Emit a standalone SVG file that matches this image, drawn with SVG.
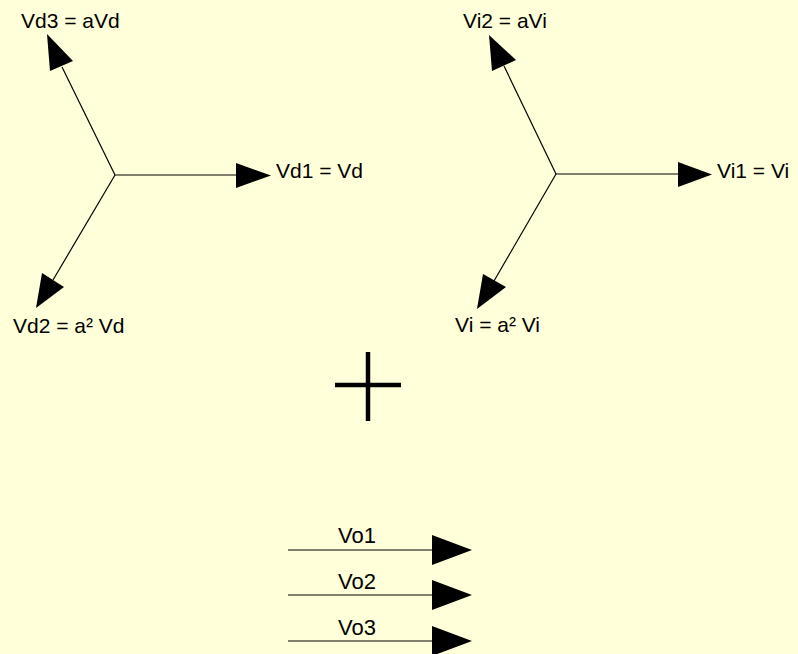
<svg xmlns="http://www.w3.org/2000/svg" width="798" height="654" viewBox="0 0 798 654">
<style>
.t{font-family:"Liberation Sans",Arial,sans-serif;font-size:21px;fill:#000}
.b{font-size:22px}
.ln{stroke:#000;stroke-width:1.2;fill:none}
.ah{fill:#000}
</style>
<rect width="798" height="654" fill="#FFFFD9"/>
<g id="connectors">
<line class="ln" x1="115" y1="175" x2="62" y2="67"/>
<polygon class="ah" points="47,34 50,71 73,61"/>
<line class="ln" x1="115" y1="175" x2="237" y2="175"/>
<polygon class="ah" points="236,163 236,188 271,175.5"/>
<line class="ln" x1="115" y1="175" x2="53" y2="280"/>
<polygon class="ah" points="36,308 42,273 64,287"/>
<line class="ln" x1="556" y1="174" x2="504" y2="66"/>
<polygon class="ah" points="489,35 492,71 516,60"/>
<line class="ln" x1="556" y1="174" x2="679" y2="174"/>
<polygon class="ah" points="678,162 678,187 712,174.5"/>
<line class="ln" x1="556" y1="174" x2="494" y2="281"/>
<polygon class="ah" points="477,309 483,274 506,287"/>
<line class="ln" x1="288" y1="550" x2="433" y2="550" stroke-width="1.5"/>
<polygon class="ah" points="432,535 432,565 472,550"/>
<line class="ln" x1="288" y1="595" x2="433" y2="595" stroke-width="1.5"/>
<polygon class="ah" points="432,580 432,610 472,595"/>
<line class="ln" x1="288" y1="641" x2="433" y2="641" stroke-width="1.5"/>
<polygon class="ah" points="432,626 432,656 472,641"/>
</g>
<g id="plus">
<line x1="368" y1="352" x2="368" y2="421" stroke="#000" stroke-width="4.5"/>
<line x1="335" y1="385" x2="401" y2="385" stroke="#000" stroke-width="4.5"/>
</g>
<g id="vd3"><text class="t" x="21" y="28">Vd3 = aVd</text></g>
<g id="vd1"><text class="t" x="276" y="178">Vd1 = Vd</text></g>
<g id="vd2"><text class="t" x="13" y="333">Vd2 = a² Vd</text></g>
<g id="vi2"><text class="t" x="463" y="28">Vi2 = aVi</text></g>
<g id="vi1"><text class="t" x="717" y="178">Vi1 = Vi</text></g>
<g id="vi3"><text class="t" x="455" y="332">Vi = a² Vi</text></g>
<g id="v01"><text class="t b" x="338" y="543">Vo1</text></g>
<g id="v02"><text class="t b" x="338" y="589">Vo2</text></g>
<g id="v03"><text class="t b" x="338" y="635">Vo3</text></g>
</svg>
